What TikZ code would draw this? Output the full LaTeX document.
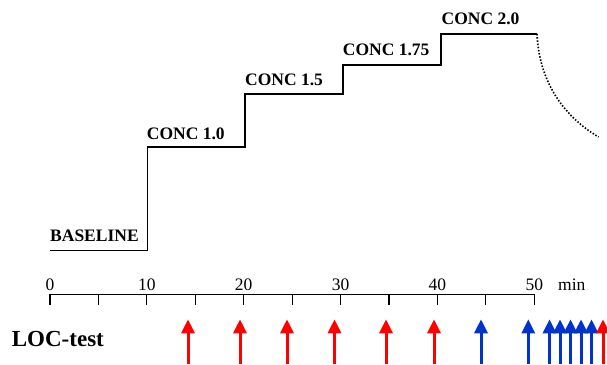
\documentclass[tikz,border=0pt]{standalone}
\usepackage{fontspec}
\setmainfont{Liberation Serif}
\usetikzlibrary{arrows.meta}
\definecolor{pulsered}{RGB}{255,0,0}
\definecolor{pulseblue}{RGB}{0,51,204}
\begin{document}
\begin{tikzpicture}[x=1pt,y=-1pt,
  level/.style={line width=1.8pt,line join=miter},
  washout/.style={line width=1.6pt,dash pattern=on 1.5pt off 1.7pt},
  steplabel/.style={anchor=base west,inner sep=0pt,font=\fontsize{17.5}{20}\selectfont\bfseries},
  ticklabel/.style={anchor=base,inner sep=0pt,font=\fontsize{17.5}{20}\selectfont},
  axisline/.style={line width=1.1pt},
  pulse/.style={line width=3pt,-{Triangle[length=14pt,width=13pt]}},
  ]
\useasboundingbox (0,0) rectangle (607,364);

% concentration steps
\coordinate (s0) at (50,250.5);
\coordinate (s1a) at (147.5,250.5);
\coordinate (s1b) at (147.5,146.7);
\coordinate (s2a) at (245,146.7);
\coordinate (s2b) at (245,94);
\coordinate (s3a) at (343,94);
\coordinate (s3b) at (343,65);
\coordinate (s4a) at (440.7,65);
\coordinate (s4b) at (440.7,34);
\coordinate (s5) at (537,34);
\coordinate (wend) at (598.5,137);
\draw[level] (s0) -- (s1a) -- (s1b) -- (s2a) -- (s2b) -- (s3a) -- (s3b) -- (s4a) -- (s4b) -- (s5);
\draw[washout] (s5) .. controls (539,78) and (560,114) .. (wend);

\node[steplabel] (lbase) at (50,241.7) {BASELINE};
\node[steplabel] (l10) at (146.7,139) {CONC 1.0};
\node[steplabel] (l15) at (245,85) {CONC 1.5};
\node[steplabel] (l175) at (342.7,55) {CONC 1.75};
\node[steplabel] (l20) at (441.5,24) {CONC 2.0};

% time axis
\coordinate (ax0) at (50,294.3);
\coordinate (ax1) at (534.3,294.3);
\draw[axisline] (ax0) -- (ax1);
\foreach \i in {0,...,10}{
  \draw[axisline] (50+\i*48.43,294.3) -- (50+\i*48.43,305);
}
\foreach \t/\n in {0/0,10/10,20/20,30/30,40/40,50/50}{
  \node[ticklabel] (t\n) at (50+\t*9.686,290.5) {\n};
}
\node[anchor=base west,inner sep=0pt,font=\fontsize{17.5}{20}\selectfont] (unit) at (558,290.5) {min};

% test pulses
\node[anchor=base west,inner sep=0pt,font=\fontsize{23}{26}\selectfont\bfseries] (loc) at (11.7,346) {LOC-test};
\foreach \x/\c [count=\k] in {188/pulsered,240/pulsered,287/pulsered,334.5/pulsered,386/pulsered,434/pulsered,
  481/pulseblue,528.3/pulseblue,549.5/pulseblue,560/pulseblue,570.5/pulseblue,581/pulseblue,591.5/pulseblue,603/pulsered}{
  \coordinate (pb\k) at (\x,364);
  \coordinate (pt\k) at (\x,319.3);
  \draw[pulse,\c] (pb\k) -- (pt\k);
}
\end{tikzpicture}
\end{document}
